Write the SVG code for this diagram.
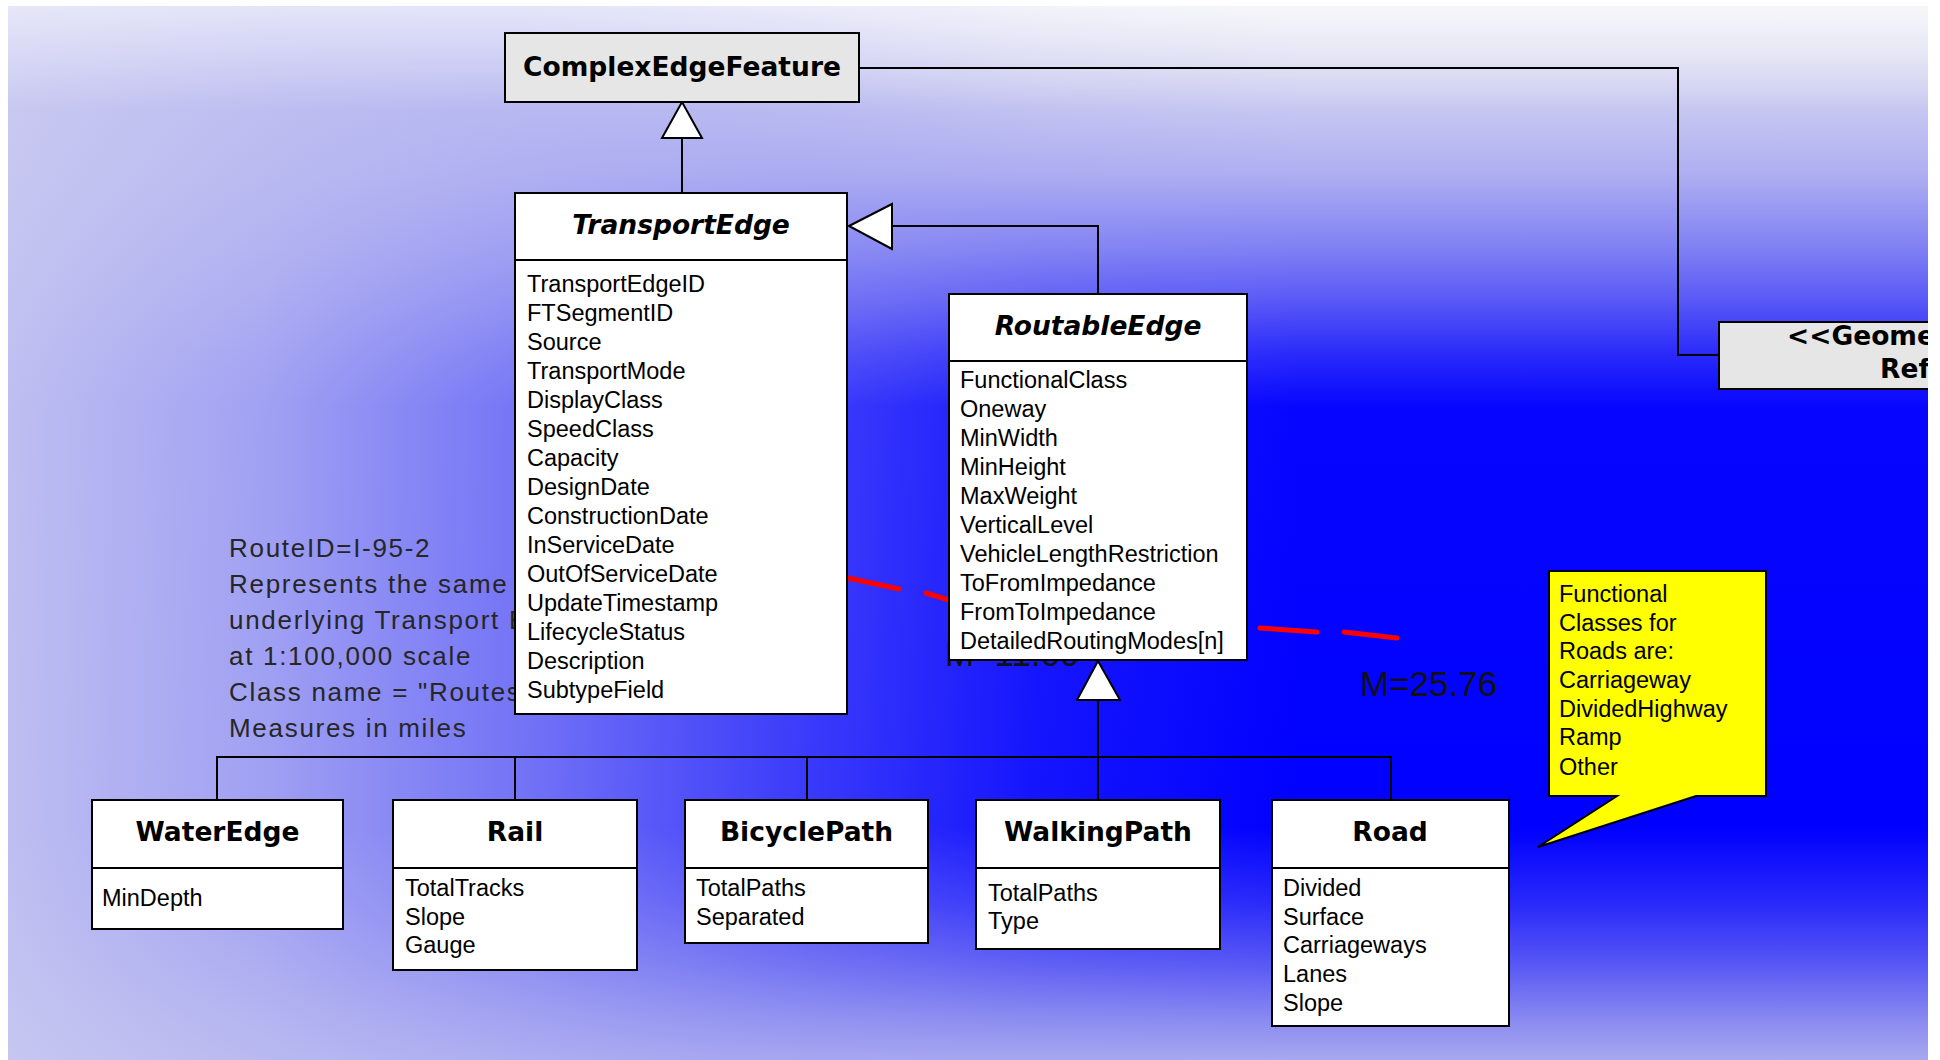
<svg xmlns="http://www.w3.org/2000/svg" width="1940" height="1060" viewBox="0 0 1940 1060">
  <defs>
    <!-- backdrop: vertical sweep into saturated blue, lightened from the left -->
    <linearGradient id="bgV" x1="0" y1="6" x2="0" y2="1060" gradientUnits="userSpaceOnUse">
      <stop offset="0" stop-color="#ececf5"/>
      <stop offset="0.06" stop-color="#d6d6f1"/>
      <stop offset="0.16" stop-color="#aeaef2"/>
      <stop offset="0.23" stop-color="#8080f4"/>
      <stop offset="0.28" stop-color="#5858f7"/>
      <stop offset="0.33" stop-color="#2a2afb"/>
      <stop offset="0.38" stop-color="#0606ff"/>
      <stop offset="0.78" stop-color="#0000ff"/>
      <stop offset="0.85" stop-color="#2828fb"/>
      <stop offset="0.91" stop-color="#5858f5"/>
      <stop offset="0.96" stop-color="#8888f1"/>
      <stop offset="1" stop-color="#a8a8f0"/>
    </linearGradient>
    <linearGradient id="bgH" x1="8" y1="0" x2="1300" y2="0" gradientUnits="userSpaceOnUse">
      <stop offset="0" stop-color="#c8c8f1" stop-opacity="0.95"/>
      <stop offset="0.2" stop-color="#bcbcf1" stop-opacity="0.85"/>
      <stop offset="0.4" stop-color="#b0b0f2" stop-opacity="0.65"/>
      <stop offset="0.62" stop-color="#a4a4f2" stop-opacity="0.35"/>
      <stop offset="0.8" stop-color="#a0a0f2" stop-opacity="0.12"/>
      <stop offset="1" stop-color="#a0a0f2" stop-opacity="0"/>
    </linearGradient>
    <linearGradient id="bgTop" x1="0" y1="6" x2="0" y2="110" gradientUnits="userSpaceOnUse">
      <stop offset="0" stop-color="#ffffff" stop-opacity="0.55"/>
      <stop offset="1" stop-color="#ffffff" stop-opacity="0"/>
    </linearGradient>
    <clipPath id="frame">
      <rect x="8" y="6" width="1920" height="1054"/>
    </clipPath>
    <style>
      .box { fill: #ffffff; stroke: #000000; stroke-width: 2; }
      .grey { fill: #e6e6e6; stroke: #000000; stroke-width: 2; }
      .sep { stroke: #000000; stroke-width: 2; }
      .title { font-family: "DejaVu Sans", "Liberation Sans", sans-serif; font-weight: bold; font-size: 26.5px; text-anchor: middle; fill: #000000; }
      .ital { font-style: italic; }
      .stereo { font-family: "DejaVu Sans", "Liberation Sans", sans-serif; font-weight: bold; font-size: 26.5px; fill: #000000; }
      .attr { font-family: "Liberation Sans", Arial, sans-serif; font-size: 23.5px; fill: #000000; }
      .note { font-family: "Liberation Sans", Arial, sans-serif; font-size: 26px; letter-spacing: 1.7px; fill: #262626; }
      .measure { font-family: "Liberation Sans", Arial, sans-serif; font-size: 35px; fill: #111111; }
      .callout { fill: #ffff00; stroke: #000000; stroke-width: 2; stroke-linejoin: miter; }
      .ctext { font-family: "Liberation Sans", Arial, sans-serif; font-size: 23.5px; fill: #000000; }
      .conn { fill: none; stroke: #000000; stroke-width: 2; }
      .gen { fill: #ffffff; stroke: #000000; stroke-width: 2; stroke-linejoin: miter; }
      .route { fill: none; stroke: #ff0000; stroke-width: 5; stroke-linecap: round; }
    </style>
  </defs>

  <rect x="0" y="0" width="1940" height="1060" fill="#ffffff"/>

  <g clip-path="url(#frame)">
    <!-- backdrop -->
    <g id="backdrop">
      <rect x="8" y="6" width="1920" height="1054" fill="url(#bgV)"/>
      <rect x="8" y="6" width="1920" height="1054" fill="url(#bgH)"/>
      <rect x="8" y="6" width="1920" height="1054" fill="url(#bgTop)"/>
    </g>

    <!-- route annotation, partly behind the class boxes -->
    <g id="route-note">
      <text class="note" x="229" y="557">RouteID=I-95-2</text>
      <text class="note" x="229" y="593">Represents the same</text>
      <text class="note" x="229" y="629">underlying Transport E</text>
      <text class="note" x="229" y="665">at 1:100,000 scale</text>
      <text class="note" x="229" y="701">Class name = "Routes</text>
      <text class="note" x="229" y="737">Measures in miles</text>
    </g>

    <!-- red dashed route -->
    <g id="route-line">
      <path class="route" d="M848,578 L899,589 M926,593 L949,600 M1260,628 L1317,632 M1344,632 L1397,638"/>
    </g>

    <!-- measure labels -->
    <g id="measures">
      <text class="measure" x="945" y="666">M=11.00</text>
      <text class="measure" x="1360" y="696">M=25.76</text>
    </g>

    <!-- connectors -->
    <g id="connectors">
      <path class="conn" d="M859,68 H1678 V355 H1719"/>
      <path class="conn" d="M682,138 V193"/>
      <path class="gen" d="M682,102 L702,138 L662,138 Z"/>
      <path class="conn" d="M892,226 H1098 V294"/>
      <path class="gen" d="M849,226 L892,204 L892,249 Z"/>
      <path class="conn" d="M1098,700 V800"/>
      <path class="conn" d="M217,800 V757 H1391 V800"/>
      <path class="conn" d="M515,757 V800"/>
      <path class="conn" d="M807,757 V800"/>
      <path class="gen" d="M1098,661 L1120,700 L1077,700 Z"/>
    </g>

    <!-- classes -->
    <g id="ComplexEdgeFeature">
      <rect class="grey" x="505" y="33" width="354" height="69"/>
      <text class="title" x="682" y="76">ComplexEdgeFeature</text>
    </g>

    <g id="GeometricNetworkRef">
      <rect class="grey" x="1719" y="322" width="260" height="67"/>
      <text class="stereo" x="1787" y="345">&lt;&lt;Geome</text>
      <text class="stereo" x="1880" y="378">Ref</text>
    </g>

    <g id="TransportEdge">
      <rect class="box" x="515" y="193" width="332" height="521"/>
      <line class="sep" x1="515" y1="260" x2="847" y2="260"/>
      <text class="title ital" x="681" y="234">TransportEdge</text>
      <text class="attr" x="527" y="291.5">TransportEdgeID</text>
      <text class="attr" x="527" y="320.5">FTSegmentID</text>
      <text class="attr" x="527" y="349.5">Source</text>
      <text class="attr" x="527" y="378.5">TransportMode</text>
      <text class="attr" x="527" y="407.5">DisplayClass</text>
      <text class="attr" x="527" y="436.5">SpeedClass</text>
      <text class="attr" x="527" y="465.5">Capacity</text>
      <text class="attr" x="527" y="494.5">DesignDate</text>
      <text class="attr" x="527" y="523.5">ConstructionDate</text>
      <text class="attr" x="527" y="552.5">InServiceDate</text>
      <text class="attr" x="527" y="581.5">OutOfServiceDate</text>
      <text class="attr" x="527" y="610.5">UpdateTimestamp</text>
      <text class="attr" x="527" y="639.5">LifecycleStatus</text>
      <text class="attr" x="527" y="668.5">Description</text>
      <text class="attr" x="527" y="697.5">SubtypeField</text>
    </g>

    <g id="RoutableEdge">
      <rect class="box" x="949" y="294" width="298" height="366"/>
      <line class="sep" x1="949" y1="361" x2="1247" y2="361"/>
      <text class="title ital" x="1098" y="335">RoutableEdge</text>
      <text class="attr" x="960" y="388">FunctionalClass</text>
      <text class="attr" x="960" y="417">Oneway</text>
      <text class="attr" x="960" y="446">MinWidth</text>
      <text class="attr" x="960" y="475">MinHeight</text>
      <text class="attr" x="960" y="504">MaxWeight</text>
      <text class="attr" x="960" y="533">VerticalLevel</text>
      <text class="attr" x="960" y="562">VehicleLengthRestriction</text>
      <text class="attr" x="960" y="591">ToFromImpedance</text>
      <text class="attr" x="960" y="620">FromToImpedance</text>
      <text class="attr" x="960" y="649">DetailedRoutingModes[n]</text>
    </g>

    <g id="WaterEdge">
      <rect class="box" x="92" y="800" width="251" height="129"/>
      <line class="sep" x1="92" y1="868" x2="343" y2="868"/>
      <text class="title" x="217.5" y="841">WaterEdge</text>
      <text class="attr" x="102" y="906">MinDepth</text>
    </g>

    <g id="Rail">
      <rect class="box" x="393" y="800" width="244" height="170"/>
      <line class="sep" x1="393" y1="868" x2="637" y2="868"/>
      <text class="title" x="515" y="841">Rail</text>
      <text class="attr" x="405" y="896">TotalTracks</text>
      <text class="attr" x="405" y="924.5">Slope</text>
      <text class="attr" x="405" y="953">Gauge</text>
    </g>

    <g id="BicyclePath">
      <rect class="box" x="685" y="800" width="243" height="143"/>
      <line class="sep" x1="685" y1="868" x2="928" y2="868"/>
      <text class="title" x="806.5" y="841">BicyclePath</text>
      <text class="attr" x="696" y="896">TotalPaths</text>
      <text class="attr" x="696" y="925">Separated</text>
    </g>

    <g id="WalkingPath">
      <rect class="box" x="976" y="800" width="244" height="149"/>
      <line class="sep" x1="976" y1="868" x2="1220" y2="868"/>
      <text class="title" x="1098" y="841">WalkingPath</text>
      <text class="attr" x="988" y="901">TotalPaths</text>
      <text class="attr" x="988" y="929">Type</text>
    </g>

    <g id="Road">
      <rect class="box" x="1272" y="800" width="237" height="226"/>
      <line class="sep" x1="1272" y1="868" x2="1509" y2="868"/>
      <text class="title" x="1390" y="841">Road</text>
      <text class="attr" x="1283" y="896">Divided</text>
      <text class="attr" x="1283" y="924.5">Surface</text>
      <text class="attr" x="1283" y="953">Carriageways</text>
      <text class="attr" x="1283" y="982">Lanes</text>
      <text class="attr" x="1283" y="1011">Slope</text>
    </g>

    <!-- note on functional classes -->
    <g id="FunctionalClassNote">
      <path class="callout" d="M1549,571 H1766 V796 H1696 L1538,847 L1617,796 H1549 Z"/>
      <text class="ctext" x="1559" y="602">Functional</text>
      <text class="ctext" x="1559" y="631">Classes for</text>
      <text class="ctext" x="1559" y="659">Roads are:</text>
      <text class="ctext" x="1559" y="688">Carriageway</text>
      <text class="ctext" x="1559" y="717">DividedHighway</text>
      <text class="ctext" x="1559" y="745">Ramp</text>
      <text class="ctext" x="1559" y="775">Other</text>
    </g>
  </g>
</svg>
